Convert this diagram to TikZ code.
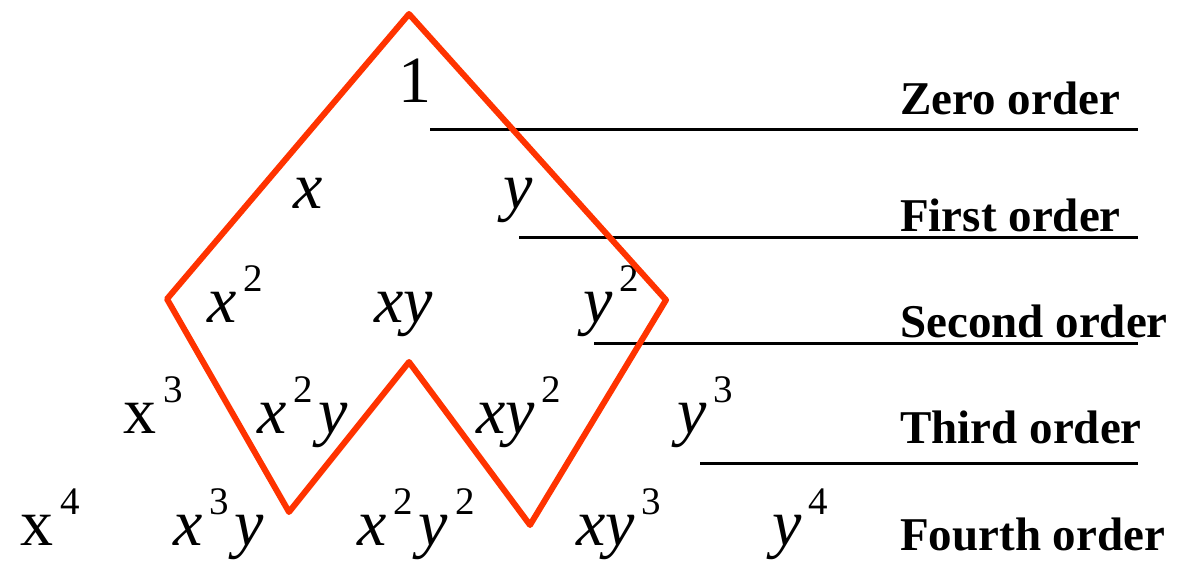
\documentclass[tikz,border=0pt]{standalone}
\usepackage{fontspec}
\setmainfont{Liberation Serif}[UprightFont=*, ItalicFont=* Italic, BoldFont=* Bold, BoldItalicFont=* Bold Italic]
\newfontfamily\tmsfont{Liberation Serif}[UprightFont=*, ItalicFont=* Italic]
\definecolor{frame}{RGB}{255,51,0}
\newcommand\Mt[1]{{\tmsfont\fontsize{66}{70}\selectfont\itshape #1}}
\newcommand\Mr[1]{{\tmsfont\fontsize{66}{70}\selectfont\upshape #1}}
\newcommand\Sp[1]{\kern7pt\raisebox{31pt}{\tmsfont\fontsize{39}{40}\selectfont\upshape #1}}
\newcommand\Gap{\kern6pt}
\tikzset{
  term/.style={anchor=base west, inner sep=0pt, outer sep=0pt},
  order/.style={anchor=base west, inner sep=0pt, font=\fontsize{47}{50}\selectfont\bfseries},
  rule/.style={line width=3pt, black},
  frameline/.style={line width=6pt, draw=frame, line join=round, line cap=round}
}
\begin{document}
\begin{tikzpicture}[x=1pt, y=-1pt]
\useasboundingbox (0,0) rectangle (1180,567);
% terms
\node[term] (t00) at (398,103) {\Mr{1}};
\node[term] (t10) at (293,208) {\Mt{x}};
\node[term] (t11) at (503,208) {\Mt{y}};
\node[term] (t20) at (207,322) {\Mt{x}\Sp{2}};
\node[term] (t21) at (374,322) {\Mt{xy}};
\node[term] (t22) at (583,322) {\Mt{y}\Sp{2}};
\node[term] (t30) at (123,433) {\Mr{x}\Sp{3}};
\node[term] (t31) at (257,433) {\Mt{x}\Sp{2}\Gap\Mt{y}};
\node[term] (t32) at (476,433) {\Mt{xy}\Sp{2}};
\node[term] (t33) at (677,433) {\Mt{y}\Sp{3}};
\node[term] (t40) at (20,545) {\Mr{x}\Sp{4}};
\node[term] (t41) at (173,545) {\Mt{x}\Sp{3}\Gap\Mt{y}};
\node[term] (t42) at (357,545) {\Mt{x}\Sp{2}\Gap\Mt{y}\Sp{2}};
\node[term] (t43) at (576,545) {\Mt{xy}\Sp{3}};
\node[term] (t44) at (772,545) {\Mt{y}\Sp{4}};
% order labels
\node[order] (o0) at (900,114) {Zero order};
\node[order] (o1) at (900,231) {First order};
\node[order] (o2) at (900,337) {Second order};
\node[order] (o3) at (900,443) {Third order};
\node[order] (o4) at (900,550) {Fourth order};
% rules
\coordinate (r0a) at (430,130); \coordinate (r0b) at (1138,130);
\coordinate (r1a) at (519,237); \coordinate (r1b) at (1138,237);
\coordinate (r2a) at (594,343); \coordinate (r2b) at (1138,343);
\coordinate (r3a) at (700,463); \coordinate (r3b) at (1138,463);
\draw[rule] (r0a) -- (r0b);
\draw[rule] (r1a) -- (r1b);
\draw[rule] (r2a) -- (r2b);
\draw[rule] (r3a) -- (r3b);
% red frame
\coordinate (pT) at (409,14);
\coordinate (pR) at (666,300);
\coordinate (pRV) at (530,525);
\coordinate (pM) at (409,362);
\coordinate (pLV) at (289,512);
\coordinate (pL) at (167,299);
\draw[frameline] (pT) -- (pR) -- (pRV) -- (pM) -- (pLV) -- (pL) -- cycle;
\end{tikzpicture}
\end{document}
